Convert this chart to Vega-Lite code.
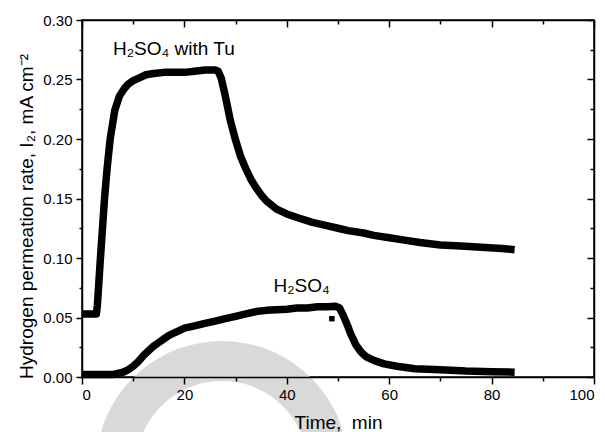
{
  "$schema": "https://vega.github.io/schema/vega-lite/v6.json",
  "width": 512,
  "height": 357,
  "autosize": {"type": "none"},
  "padding": {"left": 82, "top": 20, "right": 11, "bottom": 55},
  "background": "white",
  "config": {
    "font": "Liberation Sans",
    "view": {"stroke": "black", "strokeWidth": 1.5},
    "axis": {
      "domain": false,
      "grid": false,
      "ticks": true,
      "tickOpacity": 1,
      "domainColor": "black",
      "domainWidth": 1.5,
      "tickColor": "#000000",
      "tickWidth": 1.5,
      "labelColor": "black",
      "labelFont": "Liberation Sans",
      "labelFontSize": 15,
      "titleColor": "black",
      "titleFont": "Liberation Sans",
      "titleFontSize": 19,
      "titleFontWeight": "normal"
    }
  },
  "datasets": {
    "upper": [
      {"t": 0, "v": 0.053}, {"t": 1, "v": 0.053}, {"t": 2, "v": 0.053}, {"t": 2.8, "v": 0.053},
      {"t": 3.0, "v": 0.06}, {"t": 3.3, "v": 0.08}, {"t": 3.6, "v": 0.10}, {"t": 4.0, "v": 0.125},
      {"t": 4.4, "v": 0.15}, {"t": 4.9, "v": 0.175}, {"t": 5.5, "v": 0.20}, {"t": 6.4, "v": 0.224},
      {"t": 7.3, "v": 0.236}, {"t": 8.2, "v": 0.242}, {"t": 9, "v": 0.246}, {"t": 10, "v": 0.249},
      {"t": 11, "v": 0.251}, {"t": 12.5, "v": 0.254}, {"t": 14, "v": 0.255}, {"t": 16, "v": 0.256},
      {"t": 18, "v": 0.256}, {"t": 20, "v": 0.256}, {"t": 22, "v": 0.257}, {"t": 24, "v": 0.258},
      {"t": 26, "v": 0.258}, {"t": 26.6, "v": 0.257}, {"t": 27.2, "v": 0.251}, {"t": 28, "v": 0.236},
      {"t": 29, "v": 0.215}, {"t": 30, "v": 0.199}, {"t": 31, "v": 0.185}, {"t": 32, "v": 0.175},
      {"t": 33, "v": 0.166}, {"t": 34, "v": 0.159}, {"t": 35, "v": 0.153}, {"t": 36, "v": 0.148},
      {"t": 38, "v": 0.141}, {"t": 40, "v": 0.137}, {"t": 42, "v": 0.134}, {"t": 45, "v": 0.13},
      {"t": 48, "v": 0.127}, {"t": 50, "v": 0.125}, {"t": 52, "v": 0.123}, {"t": 55, "v": 0.121},
      {"t": 57, "v": 0.119}, {"t": 60, "v": 0.117}, {"t": 63, "v": 0.115}, {"t": 66, "v": 0.113},
      {"t": 70, "v": 0.111}, {"t": 74, "v": 0.110}, {"t": 78, "v": 0.109}, {"t": 82, "v": 0.108},
      {"t": 84.5, "v": 0.107}
    ],
    "lower": [
      {"t": 0, "v": 0.002}, {"t": 3, "v": 0.002}, {"t": 6, "v": 0.002}, {"t": 7, "v": 0.003},
      {"t": 8, "v": 0.004}, {"t": 9, "v": 0.006}, {"t": 10, "v": 0.009}, {"t": 11, "v": 0.013},
      {"t": 12, "v": 0.018}, {"t": 13, "v": 0.022}, {"t": 14, "v": 0.026}, {"t": 15, "v": 0.029},
      {"t": 16, "v": 0.032}, {"t": 17, "v": 0.035}, {"t": 18, "v": 0.037}, {"t": 19, "v": 0.039},
      {"t": 20, "v": 0.041}, {"t": 22, "v": 0.043}, {"t": 24, "v": 0.045}, {"t": 26, "v": 0.047},
      {"t": 28, "v": 0.049}, {"t": 30, "v": 0.051}, {"t": 32, "v": 0.053}, {"t": 34, "v": 0.055},
      {"t": 36, "v": 0.056}, {"t": 38, "v": 0.0565}, {"t": 40, "v": 0.057}, {"t": 42, "v": 0.058},
      {"t": 44, "v": 0.058}, {"t": 46, "v": 0.059}, {"t": 48, "v": 0.059}, {"t": 49.5, "v": 0.0595},
      {"t": 50.3, "v": 0.058}, {"t": 51, "v": 0.052}, {"t": 51.7, "v": 0.045}, {"t": 52.5, "v": 0.036},
      {"t": 53.5, "v": 0.027}, {"t": 54.5, "v": 0.021}, {"t": 55.5, "v": 0.017}, {"t": 57, "v": 0.014},
      {"t": 59, "v": 0.011}, {"t": 61.5, "v": 0.009}, {"t": 65, "v": 0.007}, {"t": 70, "v": 0.006},
      {"t": 75, "v": 0.005}, {"t": 80, "v": 0.0045}, {"t": 84.5, "v": 0.004}
    ],
    "watermark": [
      {"t": 6.95, "v": -0.0602}, {"t": 7.89, "v": -0.0451}, {"t": 9.41, "v": -0.0311},
      {"t": 11.48, "v": -0.0183}, {"t": 14.02, "v": -0.0074}, {"t": 16.99, "v": 0.0015},
      {"t": 20.25, "v": 0.0081}, {"t": 23.75, "v": 0.0121}, {"t": 27.34, "v": 0.0134},
      {"t": 30.94, "v": 0.0121}, {"t": 34.43, "v": 0.0081}, {"t": 37.7, "v": 0.0015},
      {"t": 40.66, "v": -0.0074}, {"t": 43.2, "v": -0.0183}, {"t": 45.27, "v": -0.0311},
      {"t": 46.8, "v": -0.0451}, {"t": 47.73, "v": -0.0602}
    ],
    "marker": [{"t": 48.8, "v": 0.049}],
    "labels": [
      {"t": 6.05, "v": 0.2706, "text": "H₂SO₄ with Tu"},
      {"t": 37.4, "v": 0.0717, "text": "H₂SO₄"}
    ]
  },
  "resolve": {"axis": {"x": "independent", "y": "independent"}},
  "layer": [
    {
      "data": {"name": "watermark"},
      "mark": {"type": "line", "color": "#d9d9d9", "strokeWidth": 40, "clip": false, "interpolate": "monotone"},
      "encoding": {
        "x": {"field": "t", "type": "quantitative", "scale": {"domain": [0, 100], "nice": false}, "axis": null},
        "y": {"field": "v", "type": "quantitative", "scale": {"domain": [0, 0.3], "nice": false, "zero": false}, "axis": null},
        "order": {"field": "t", "type": "quantitative"}
      }
    },
    {
      "data": {"name": "upper"},
      "mark": {"type": "line", "color": "black", "strokeWidth": 7.5, "strokeJoin": "round", "strokeCap": "butt"},
      "encoding": {
        "x": {"field": "t", "type": "quantitative",
              "axis": {"orient": "bottom", "zindex": 2, "domain": true, "ticks": true, "values": [0, 20, 40, 60, 80, 100], "tickSize": 7, "labelPadding": 3,
                       "title": "Time,\u00a0 min", "titlePadding": 11}},
        "y": {"field": "v", "type": "quantitative",
              "axis": {"orient": "left", "zindex": 2, "domain": true, "ticks": true, "values": [0, 0.05, 0.1, 0.15, 0.2, 0.25, 0.3], "format": ".2f", "tickSize": 6,
                       "labelPadding": 4, "title": "Hydrogen permeation rate, I₂, mA cm⁻²", "titlePadding": 6, "titleY": 196}}
      }
    },
    {
      "data": {"name": "lower"},
      "mark": {"type": "line", "color": "black", "strokeWidth": 7.5, "strokeJoin": "round", "strokeCap": "butt"},
      "encoding": {
        "x": {"field": "t", "type": "quantitative",
              "axis": {"orient": "bottom", "zindex": 2, "ticks": true, "values": [10, 30, 50, 70, 90], "tickSize": 4, "labels": false, "title": null}},
        "y": {"field": "v", "type": "quantitative",
              "axis": {"orient": "left", "zindex": 2, "ticks": true, "values": [0.025, 0.075, 0.125, 0.175, 0.225, 0.275], "tickSize": 3, "labels": false, "title": null}}
      }
    },
    {
      "data": {"name": "marker"},
      "mark": {"type": "square", "color": "black", "size": 30, "opacity": 1},
      "encoding": {
        "x": {"field": "t", "type": "quantitative",
              "axis": {"orient": "top", "zindex": 2, "domain": true, "ticks": true, "values": [0, 20, 40, 60, 80, 100], "tickSize": -7, "labels": false, "title": null}},
        "y": {"field": "v", "type": "quantitative",
              "axis": {"orient": "right", "zindex": 2, "domain": true, "ticks": true, "values": [0, 0.05, 0.1, 0.15, 0.2, 0.25, 0.3], "tickSize": -7, "labels": false, "title": null}}
      }
    },
    {
      "data": {"name": "labels"},
      "mark": {"type": "text", "color": "black", "fontSize": 19, "align": "left", "baseline": "alphabetic", "font": "Liberation Sans"},
      "encoding": {
        "x": {"field": "t", "type": "quantitative",
              "axis": {"orient": "top", "zindex": 2, "ticks": true, "values": [10, 30, 50, 70, 90], "tickSize": -4, "labels": false, "title": null}},
        "y": {"field": "v", "type": "quantitative",
              "axis": {"orient": "right", "zindex": 2, "ticks": true, "values": [0.025, 0.075, 0.125, 0.175, 0.225, 0.275], "tickSize": -4, "labels": false, "title": null}},
        "text": {"field": "text"}
      }
    }
  ]
}
